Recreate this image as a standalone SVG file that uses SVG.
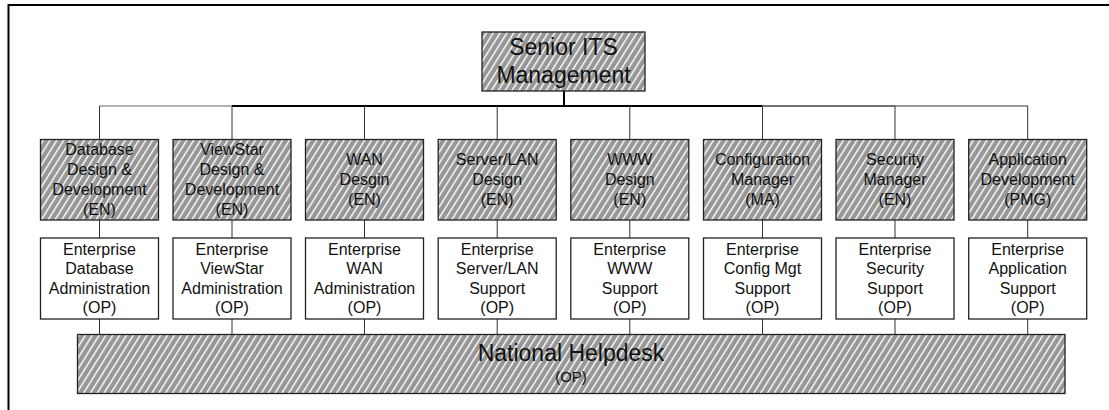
<svg xmlns="http://www.w3.org/2000/svg" width="1109" height="410" viewBox="0 0 1109 410">
<defs>
<pattern id="hatch" patternUnits="userSpaceOnUse" width="5.8" height="10" patternTransform="rotate(32)">
<rect x="0" y="0" width="5.8" height="10" fill="#979797"/>
<rect x="0" y="0" width="1.4" height="10" fill="#ffffff"/>
</pattern>
<style>
.h{fill:url(#hatch);stroke:#222;stroke-width:1.3}
.w{fill:#ffffff;stroke:#222;stroke-width:1.3}
text{font-family:"Liberation Sans",Arial,sans-serif;fill:#111;text-anchor:middle}
.t16{font-size:16px}
.t23{font-size:23px}
.t15{font-size:15px}
.c{stroke:#333;stroke-width:1;fill:none}
</style>
</defs>
<rect width="1109" height="410" fill="#ffffff"/>
<g id="frame" fill="none" stroke="#000" stroke-width="2">
<path d="M8.5,410 V5 H1109"/>
</g>
<g id="connectors">
<line x1="564" y1="91" x2="564" y2="106" stroke="#000" stroke-width="2"/>
<line x1="99.5" y1="106" x2="232" y2="106" stroke="#666" stroke-width="1.2"/>
<line x1="232" y1="106" x2="762.5" y2="106" stroke="#000" stroke-width="1.8"/>
<line x1="762.5" y1="106" x2="895" y2="106" stroke="#444" stroke-width="1.5"/>
<line x1="895" y1="106" x2="1028" y2="106" stroke="#777" stroke-width="1.4"/>
<path class="c" d="M99.5,106V139.5 M232,106V139.5 M364.5,106V139.5 M497.2,106V139.5 M629.8,106V139.5 M762.5,106V139.5 M895,106V139.5 M1027.7,106V139.5"/>
<path class="c" d="M99.5,220V238 M232,220V238 M364.5,220V238 M497.2,220V238 M629.8,220V238 M762.5,220V238 M895,220V238 M1027.7,220V238"/>
<path class="c" d="M99.5,319V334.5 M232,319V334.5 M364.5,319V334.5 M497.2,319V334.5 M629.8,319V334.5 M762.5,319V334.5 M895,319V334.5 M1027.7,319V334.5"/>
</g>
<g id="senior">
<rect class="h" x="482" y="32" width="163" height="59"/>
<text class="t23" x="563.5" y="55">Senior ITS</text>
<text class="t23" x="563.5" y="82.5">Management</text>
</g>
<g id="db-design">
<rect class="h" x="40.5" y="139.5" width="118" height="80.5"/>
<text class="t16" x="99.5" y="155">Database</text>
<text class="t16" x="99.5" y="175">Design &amp;</text>
<text class="t16" x="99.5" y="195">Development</text>
<text class="t16" x="99.5" y="215">(EN)</text>
</g>
<g id="vs-design">
<rect class="h" x="173" y="139.5" width="118" height="80.5"/>
<text class="t16" x="232" y="155">ViewStar</text>
<text class="t16" x="232" y="175">Design &amp;</text>
<text class="t16" x="232" y="195">Development</text>
<text class="t16" x="232" y="215">(EN)</text>
</g>
<g id="wan-design">
<rect class="h" x="305.5" y="139.5" width="118" height="80.5"/>
<text class="t16" x="364.5" y="165">WAN</text>
<text class="t16" x="364.5" y="185">Desgin</text>
<text class="t16" x="364.5" y="205">(EN)</text>
</g>
<g id="lan-design">
<rect class="h" x="438.2" y="139.5" width="118" height="80.5"/>
<text class="t16" x="497.2" y="165">Server/LAN</text>
<text class="t16" x="497.2" y="185">Design</text>
<text class="t16" x="497.2" y="205">(EN)</text>
</g>
<g id="www-design">
<rect class="h" x="570.8" y="139.5" width="118" height="80.5"/>
<text class="t16" x="629.8" y="165">WWW</text>
<text class="t16" x="629.8" y="185">Design</text>
<text class="t16" x="629.8" y="205">(EN)</text>
</g>
<g id="config-manager">
<rect class="h" x="703.5" y="139.5" width="118" height="80.5"/>
<text class="t16" x="762.5" y="165">Configuration</text>
<text class="t16" x="762.5" y="185">Manager</text>
<text class="t16" x="762.5" y="205">(MA)</text>
</g>
<g id="security-manager">
<rect class="h" x="836" y="139.5" width="118" height="80.5"/>
<text class="t16" x="895" y="165">Security</text>
<text class="t16" x="895" y="185">Manager</text>
<text class="t16" x="895" y="205">(EN)</text>
</g>
<g id="app-dev">
<rect class="h" x="968.7" y="139.5" width="118" height="80.5"/>
<text class="t16" x="1027.7" y="165">Application</text>
<text class="t16" x="1027.7" y="185">Development</text>
<text class="t16" x="1027.7" y="205">(PMG)</text>
</g>
<g id="db-admin">
<rect class="w" x="40.5" y="238" width="118" height="81"/>
<text class="t16" x="99.5" y="254.5">Enterprise</text>
<text class="t16" x="99.5" y="274">Database</text>
<text class="t16" x="99.5" y="293.5">Administration</text>
<text class="t16" x="99.5" y="313">(OP)</text>
</g>
<g id="vs-admin">
<rect class="w" x="173" y="238" width="118" height="81"/>
<text class="t16" x="232" y="254.5">Enterprise</text>
<text class="t16" x="232" y="274">ViewStar</text>
<text class="t16" x="232" y="293.5">Administration</text>
<text class="t16" x="232" y="313">(OP)</text>
</g>
<g id="wan-admin">
<rect class="w" x="305.5" y="238" width="118" height="81"/>
<text class="t16" x="364.5" y="254.5">Enterprise</text>
<text class="t16" x="364.5" y="274">WAN</text>
<text class="t16" x="364.5" y="293.5">Administration</text>
<text class="t16" x="364.5" y="313">(OP)</text>
</g>
<g id="lan-support">
<rect class="w" x="438.2" y="238" width="118" height="81"/>
<text class="t16" x="497.2" y="254.5">Enterprise</text>
<text class="t16" x="497.2" y="274">Server/LAN</text>
<text class="t16" x="497.2" y="293.5">Support</text>
<text class="t16" x="497.2" y="313">(OP)</text>
</g>
<g id="www-support">
<rect class="w" x="570.8" y="238" width="118" height="81"/>
<text class="t16" x="629.8" y="254.5">Enterprise</text>
<text class="t16" x="629.8" y="274">WWW</text>
<text class="t16" x="629.8" y="293.5">Support</text>
<text class="t16" x="629.8" y="313">(OP)</text>
</g>
<g id="config-support">
<rect class="w" x="703.5" y="238" width="118" height="81"/>
<text class="t16" x="762.5" y="254.5">Enterprise</text>
<text class="t16" x="762.5" y="274">Config Mgt</text>
<text class="t16" x="762.5" y="293.5">Support</text>
<text class="t16" x="762.5" y="313">(OP)</text>
</g>
<g id="security-support">
<rect class="w" x="836" y="238" width="118" height="81"/>
<text class="t16" x="895" y="254.5">Enterprise</text>
<text class="t16" x="895" y="274">Security</text>
<text class="t16" x="895" y="293.5">Support</text>
<text class="t16" x="895" y="313">(OP)</text>
</g>
<g id="app-support">
<rect class="w" x="968.7" y="238" width="118" height="81"/>
<text class="t16" x="1027.7" y="254.5">Enterprise</text>
<text class="t16" x="1027.7" y="274">Application</text>
<text class="t16" x="1027.7" y="293.5">Support</text>
<text class="t16" x="1027.7" y="313">(OP)</text>
</g>
<g id="helpdesk">
<rect class="h" x="77.5" y="334.5" width="987.5" height="59"/>
<text class="t23" x="571" y="360.5">National Helpdesk</text>
<text class="t15" x="571" y="381.5">(OP)</text>
</g>
</svg>
